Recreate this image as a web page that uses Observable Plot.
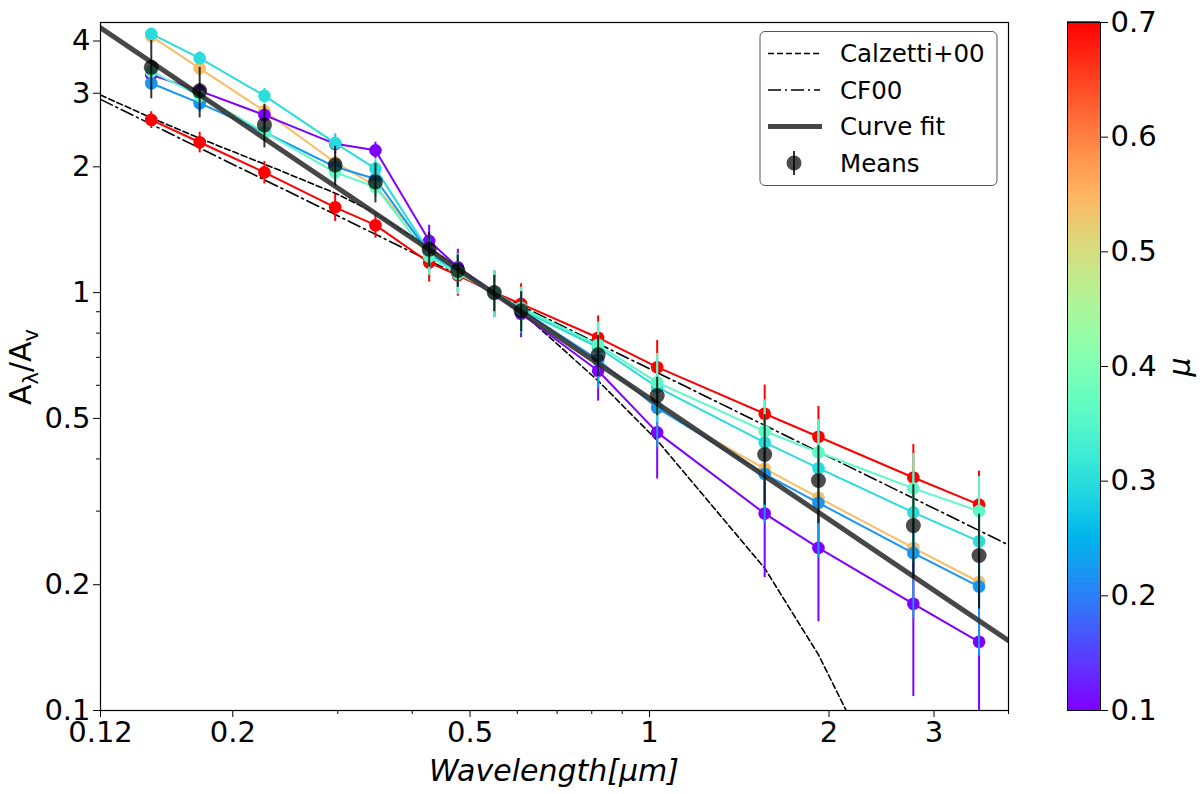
<!DOCTYPE html>
<html><head><meta charset="utf-8">
<script src="https://cdn.jsdelivr.net/npm/d3@7"></script>
<script src="https://cdn.jsdelivr.net/npm/@observablehq/plot@0.6"></script>
<style>
body{margin:0;background:#fff;font-family:"DejaVu Sans",sans-serif;}
#wrap{position:relative;width:1200px;height:794px;overflow:hidden;}
#wrap svg{position:absolute;top:0;}
</style></head><body><div id="wrap"></div>
<script>
// ---- data ----
const wavelengths = [0.146, 0.176, 0.226, 0.297, 0.347, 0.427, 0.477, 0.549, 0.609, 0.82, 1.03, 1.56, 1.92, 2.77, 3.57];
const seriesMu = [0.7, 0.54, 0.1, 0.22, 0.3, 0.36];
const seriesRed    = [2.59, 2.29, 1.94, 1.60, 1.45, 1.18, 1.10, 1.00, 0.94, 0.78, 0.663, 0.513, 0.452, 0.361, 0.311];
const seriesTan    = [4.11, 3.44, 2.72, 2.05, 1.80, 1.26, 1.13, 1.00, 0.91, 0.69, 0.53, 0.379, 0.323, 0.245, 0.203];
const seriesPurple = [3.32, 3.04, 2.66, 2.27, 2.19, 1.33, 1.15, 1.00, 0.89, 0.65, 0.463, 0.296, 0.245, 0.180, 0.146];
const seriesBlue   = [3.17, 2.84, 2.42, 2.00, 1.87, 1.24, 1.12, 1.00, 0.91, 0.69, 0.53, 0.368, 0.314, 0.238, 0.198];
const seriesCyan   = [4.16, 3.64, 2.96, 2.28, 1.98, 1.25, 1.12, 1.00, 0.91, 0.74, 0.594, 0.438, 0.380, 0.298, 0.254];
const seriesAqua   = [3.38, 2.96, 2.42, 1.94, 1.79, 1.22, 1.11, 1.00, 0.92, 0.75, 0.61, 0.466, 0.415, 0.340, 0.300];
const seriesErr    = [0.12, 0.13, 0.12, 0.12, 0.10, 0.12, 0.12, 0.125, 0.11, 0.10, 0.105, 0.088, 0.082, 0.072, 0.063];
const meanValues   = [3.46, 3.04, 2.52, 2.02, 1.84, 1.27, 1.13, 1.00, 0.905, 0.71, 0.567, 0.41, 0.355, 0.277, 0.235];
const meanErr      = [0.55, 0.42, 0.30, 0.22, 0.20, 0.12, 0.10, 0.10, 0.10, 0.08, 0.06, 0.10, 0.075, 0.07, 0.06];
const calzettiX = [0.12, 0.146, 0.176, 0.226, 0.297, 0.347, 0.427, 0.477, 0.549, 0.609, 0.82, 1.03, 1.56, 1.92, 2.2];
const calzettiY = [2.97, 2.62, 2.34, 2.03, 1.73, 1.55, 1.28, 1.15, 1.00, 0.90, 0.615, 0.443, 0.219, 0.136, 0.092];
const cf00X = [0.12, 4.0];
const cf00Y = [2.90, 0.249];
const fitX = [0.12, 4.0];
const fitY = [4.30, 0.147];
const xTicks = [0.12, 0.2, 0.5, 1, 2, 3];
const xMinor = [0.3, 0.4, 0.6, 0.7, 0.8, 0.9, 4];
const yTicks = [0.1, 0.2, 0.5, 1, 2, 3, 4];
const yMinor = [0.3, 0.4, 0.6, 0.7, 0.8, 0.9];
const cbTicks = [0.1, 0.2, 0.3, 0.4, 0.5, 0.6, 0.7];
const legendLabels = ["Calzetti+00", "CF00", "Curve fit", "Means"];

// ---- helpers ----
const rainbow = t => {
  t = Math.max(0, Math.min(1, t));
  const r = Math.min(1, Math.abs(2 * t - 0.5)), g = Math.sin(Math.PI * t), b = Math.cos(Math.PI * t / 2);
  return `rgb(${Math.round(r * 255)},${Math.round(g * 255)},${Math.round(b * 255)})`;
};
const colorScale = {type: "linear", domain: [0.1, 0.7], interpolate: rainbow};
const allSeries = [seriesRed, seriesTan, seriesPurple, seriesBlue, seriesCyan, seriesAqua];
const rowsFor = (vals, mu, errs) => vals.map((v, i) => ({w: wavelengths[i], v, e: errs[i], mu}));
const calzetti = calzettiX.map((x, i) => ({x, y: calzettiY[i]}));
const cf00 = cf00X.map((x, i) => ({x, y: cf00Y[i]}));
const fit = fitX.map((x, i) => ({x, y: fitY[i]}));
const means = rowsFor(meanValues, 0, meanErr);

const marks = [
  Plot.line(calzetti, {x: "x", y: "y", stroke: "#000", strokeWidth: 1.6, strokeDasharray: "6,3", clip: true}),
  Plot.line(cf00, {x: "x", y: "y", stroke: "#000", strokeWidth: 1.6, strokeDasharray: "13,4,2,4", clip: true})
];
allSeries.forEach((vals, k) => {
  const rows = rowsFor(vals, seriesMu[k], seriesErr);
  marks.push(
    Plot.ruleX(rows, {x: "w", y1: d => d.v - d.e, y2: d => d.v + d.e, stroke: "mu", strokeWidth: 2, clip: true}),
    Plot.line(rows, {x: "w", y: "v", stroke: "mu", strokeWidth: 2, clip: true}),
    Plot.dot(rows, {x: "w", y: "v", fill: "mu", r: 6.3, clip: true})
  );
});
marks.push(
  Plot.line(fit, {x: "x", y: "y", stroke: "#333", strokeOpacity: 0.9, strokeWidth: 5, clip: true}),
  Plot.ruleX(means, {x: "w", y1: d => d.v - d.e, y2: d => d.v + d.e, stroke: "#000", strokeOpacity: 0.8, strokeWidth: 2, clip: true}),
  Plot.dot(means, {x: "w", y: "v", fill: "#000", fillOpacity: 0.7, r: 7.5, clip: true}),
  Plot.frame({stroke: "#000", strokeWidth: 1.2}),
  Plot.axisX({ticks: xTicks, tickFormat: d => String(d), tickSize: 7, tickPadding: 4, fontSize: 29, label: null}),
  Plot.axisX({ticks: xMinor, tickFormat: () => "", tickSize: 4, label: null}),
  Plot.axisY({ticks: yTicks, tickFormat: d => String(d), tickSize: 7, tickPadding: 3, fontSize: 29, label: null}),
  Plot.axisY({ticks: yMinor, tickFormat: () => "", tickSize: 4, label: null})
);

const main = Plot.plot({
  width: 1200, height: 794,
  marginLeft: 100, marginRight: 192, marginTop: 22, marginBottom: 84,
  x: {type: "log", domain: [0.12, 4.0]},
  y: {type: "log", domain: [0.1, 4.43]},
  color: colorScale,
  style: {fontFamily: "DejaVu Sans", fontSize: "29px", background: "transparent", overflow: "visible"},
  marks
});
main.style.left = "0px";
document.getElementById("wrap").appendChild(main);

// axis labels
const svg = d3.select(main);
const yl = svg.append("text").attr("transform", "translate(31,367) rotate(-90)")
  .attr("text-anchor", "middle").attr("font-size", 30).attr("font-family", "DejaVu Sans").attr("fill", "#000");
yl.append("tspan").text("A");
yl.append("tspan").text("λ").attr("font-size", 21).attr("dy", 7);
yl.append("tspan").text("/A").attr("dy", -7);
yl.append("tspan").text("v").attr("font-size", 21).attr("dy", 7);
svg.append("text").attr("x", 554).attr("y", 781).attr("text-anchor", "middle")
  .attr("font-size", 30).attr("font-style", "italic").attr("font-family", "DejaVu Sans").attr("fill", "#000")
  .text("Wavelength[μm]");

// legend
const lg = svg.append("g").attr("font-family", "DejaVu Sans").attr("font-size", 24.5).attr("text-anchor", "start");
lg.append("rect").attr("x", 760).attr("y", 31.5).attr("width", 237).attr("height", 154).attr("rx", 5)
  .attr("fill", "#fff").attr("fill-opacity", 0.85).attr("stroke", "#555").attr("stroke-width", 1);
const rowY = [53.5, 90, 126.5, 163];
lg.append("line").attr("x1", 768).attr("x2", 820).attr("y1", rowY[0]).attr("y2", rowY[0]).attr("stroke", "#000").attr("stroke-width", 1.6).attr("stroke-dasharray", "6,3");
lg.append("line").attr("x1", 768).attr("x2", 820).attr("y1", rowY[1]).attr("y2", rowY[1]).attr("stroke", "#000").attr("stroke-width", 1.6).attr("stroke-dasharray", "13,4,2,4");
lg.append("line").attr("x1", 768).attr("x2", 822).attr("y1", rowY[2]).attr("y2", rowY[2]).attr("stroke", "#333").attr("stroke-opacity", 0.9).attr("stroke-width", 5);
lg.append("line").attr("x1", 794).attr("x2", 794).attr("y1", rowY[3] - 12).attr("y2", rowY[3] + 12).attr("stroke", "#000").attr("stroke-opacity", 0.8).attr("stroke-width", 2);
lg.append("circle").attr("cx", 794).attr("cy", rowY[3]).attr("r", 7.5).attr("fill", "#000").attr("fill-opacity", 0.7);
legendLabels.forEach((t, i) => {
  lg.append("text").attr("x", 840).attr("y", rowY[i]).attr("dy", "0.36em").attr("text-anchor", "start").attr("fill", "#000").text(t);
});

// colorbar
const cbN = 240;
const cbSteps = d3.range(cbN).map(i => 0.1 + i * 0.6 / cbN);
const cb = Plot.plot({
  width: 160, height: 794,
  marginLeft: 27, marginRight: 100, marginTop: 22, marginBottom: 84,
  x: {domain: [0, 1], axis: null},
  y: {domain: [0.1, 0.7], axis: null},
  color: colorScale,
  style: {fontFamily: "DejaVu Sans", fontSize: "29px", background: "transparent", overflow: "visible"},
  marks: [
    Plot.rect(cbSteps, {x1: 0, x2: 1, y1: d => d, y2: d => d + 0.6 / cbN + 0.0008, fill: d => d + 0.3 / cbN}),
    Plot.frame({stroke: "#000", strokeWidth: 1}),
    Plot.axisY({anchor: "right", ticks: cbTicks, tickSize: 7, tickPadding: 3, fontSize: 29, label: null, tickFormat: d => d.toFixed(1)})
  ]
});
cb.style.left = "1040px";
document.getElementById("wrap").appendChild(cb);
d3.select(cb).append("text").attr("transform", "translate(150,367) rotate(-90)")
  .attr("text-anchor", "middle").attr("font-size", 30).attr("font-style", "italic").attr("font-family", "DejaVu Sans").attr("fill", "#000").text("μ");
</script></body></html>
